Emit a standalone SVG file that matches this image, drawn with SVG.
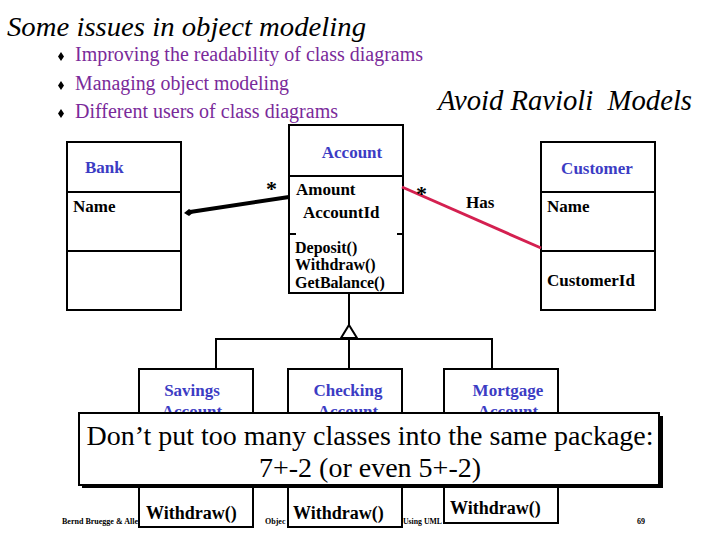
<svg xmlns="http://www.w3.org/2000/svg" width="720" height="540" viewBox="0 0 720 540" font-family="'Liberation Serif','Times New Roman',serif">
<style>
text{font-family:"Liberation Serif","Times New Roman",serif}
.title{font-size:28px;font-style:italic;fill:#000}
.bul{font-size:20px;fill:#7a2a9a}
.cls{font-size:17px;font-weight:bold;fill:#3c3cc4}
.att{font-size:17px;font-weight:bold;fill:#000}
.mth{font-size:16px;font-weight:bold;fill:#000}
.box{fill:#fff;stroke:#000;stroke-width:2}
.ln{fill:none;stroke:#000;stroke-width:2}
.foot{font-size:8px;font-weight:bold;fill:#000}
.big{font-size:28px;fill:#000}
</style>
<rect width="720" height="540" fill="#fff"/>
<text class="title" x="7" y="36" textLength="359" lengthAdjust="spacingAndGlyphs">Some issues in object modeling</text>
<g id="bullets">
<path d="M61 52 L64 56.5 L61 61 L58 56.5 Z M61 81 L64 85.5 L61 90 L58 85.5 Z M61 109 L64 113.5 L61 118 L58 113.5 Z" fill="#000"/>
<text class="bul" x="75" y="61" textLength="348" lengthAdjust="spacingAndGlyphs">Improving the readability of class diagrams</text>
<text class="bul" x="75" y="90" textLength="214" lengthAdjust="spacingAndGlyphs">Managing object modeling</text>
<text class="bul" x="75" y="118" textLength="263" lengthAdjust="spacingAndGlyphs">Different users of class diagrams</text>
</g>
<text class="title" x="438" y="110" style="white-space:pre;font-size:29px" textLength="254" lengthAdjust="spacingAndGlyphs">Avoid Ravioli  Models</text>
<g id="footer">
<text class="foot" x="62" y="524" textLength="76" lengthAdjust="spacingAndGlyphs">Bernd Bruegge &amp; Alle</text>
<text class="foot" x="265" y="524">Objec</text>
<text class="foot" x="403" y="524" textLength="39" lengthAdjust="spacingAndGlyphs">Using UML</text>
<text class="foot" x="637" y="524">69</text>
</g>
<g id="bank">
<rect class="box" x="67" y="142" width="114" height="168"/>
<line class="ln" x1="67" y1="192" x2="181" y2="192"/>
<line class="ln" x1="67" y1="251" x2="181" y2="251"/>
<text class="cls" x="85" y="173">Bank</text>
<text class="att" x="73" y="212">Name</text>
</g>
<g id="account">
<rect class="box" x="289" y="125" width="114" height="168"/>
<line class="ln" x1="289" y1="176" x2="403" y2="176"/>
<line class="ln" x1="289" y1="234" x2="296" y2="234"/>
<line class="ln" x1="397" y1="234" x2="403" y2="234"/>
<text class="cls" x="352" y="158" text-anchor="middle">Account</text>
<text class="att" x="296" y="195">Amount</text>
<text class="att" x="303" y="218">AccountId</text>
<text class="mth" x="295" y="253">Deposit()</text>
<text class="mth" x="295" y="270">Withdraw()</text>
<text class="mth" x="295" y="288">GetBalance()</text>
</g>
<g id="customer">
<rect class="box" x="541" y="142" width="114" height="168"/>
<line class="ln" x1="541" y1="192" x2="655" y2="192"/>
<line class="ln" x1="541" y1="251" x2="655" y2="251"/>
<text class="cls" x="597" y="174" text-anchor="middle">Customer</text>
<text class="att" x="547" y="212">Name</text>
<text class="att" x="547" y="286">CustomerId</text>
</g>
<g id="connectors">
<line x1="289" y1="197" x2="190" y2="212" stroke="#000" stroke-width="4"/>
<path d="M184 213 L189 209 L194 212 L189 216 Z" fill="#000"/>
<text class="att" x="266" y="196" style="font-size:22px">*</text>
<line x1="402" y1="187" x2="541" y2="248" stroke="#d42050" stroke-width="3"/>
<text class="att" x="416" y="201" style="font-size:22px">*</text>
<text class="att" x="466" y="208">Has</text>
<line class="ln" x1="349" y1="293" x2="349" y2="326"/>
<path d="M349 325 L357 338 L341 338 Z" fill="#fff" stroke="#000" stroke-width="2"/>
<path class="ln" d="M216 369 V339 H492 V369 M349 338 V369"/>
</g>
<g id="savings">
<rect class="box" x="139" y="369" width="114" height="158"/>
<text class="cls" x="192" y="396" text-anchor="middle">Savings</text>
<text class="cls" x="192" y="417" text-anchor="middle">Account</text>
<text class="att" x="146" y="519" style="font-size:18px">Withdraw()</text>
</g>
<g id="checking">
<rect class="box" x="288" y="369" width="114" height="158"/>
<text class="cls" x="348" y="396" text-anchor="middle">Checking</text>
<text class="cls" x="348" y="417" text-anchor="middle">Account</text>
<text class="att" x="293" y="519" style="font-size:18px">Withdraw()</text>
</g>
<g id="mortgage">
<rect class="box" x="444" y="369" width="114" height="154"/>
<text class="cls" x="508" y="396" text-anchor="middle">Mortgage</text>
<text class="cls" x="508" y="417" text-anchor="middle">Account</text>
<text class="att" x="450" y="514" style="font-size:18px">Withdraw()</text>
</g>
<g id="note">
<rect x="82" y="416" width="581" height="72" fill="#000"/>
<rect x="79" y="413" width="580" height="72" fill="#fff" stroke="#000" stroke-width="2"/>
<text class="big" x="370" y="445" text-anchor="middle">Don’t put too many classes into the same package:</text>
<text class="big" x="370" y="477" text-anchor="middle">7+-2 (or even 5+-2)</text>
</g>
</svg>
